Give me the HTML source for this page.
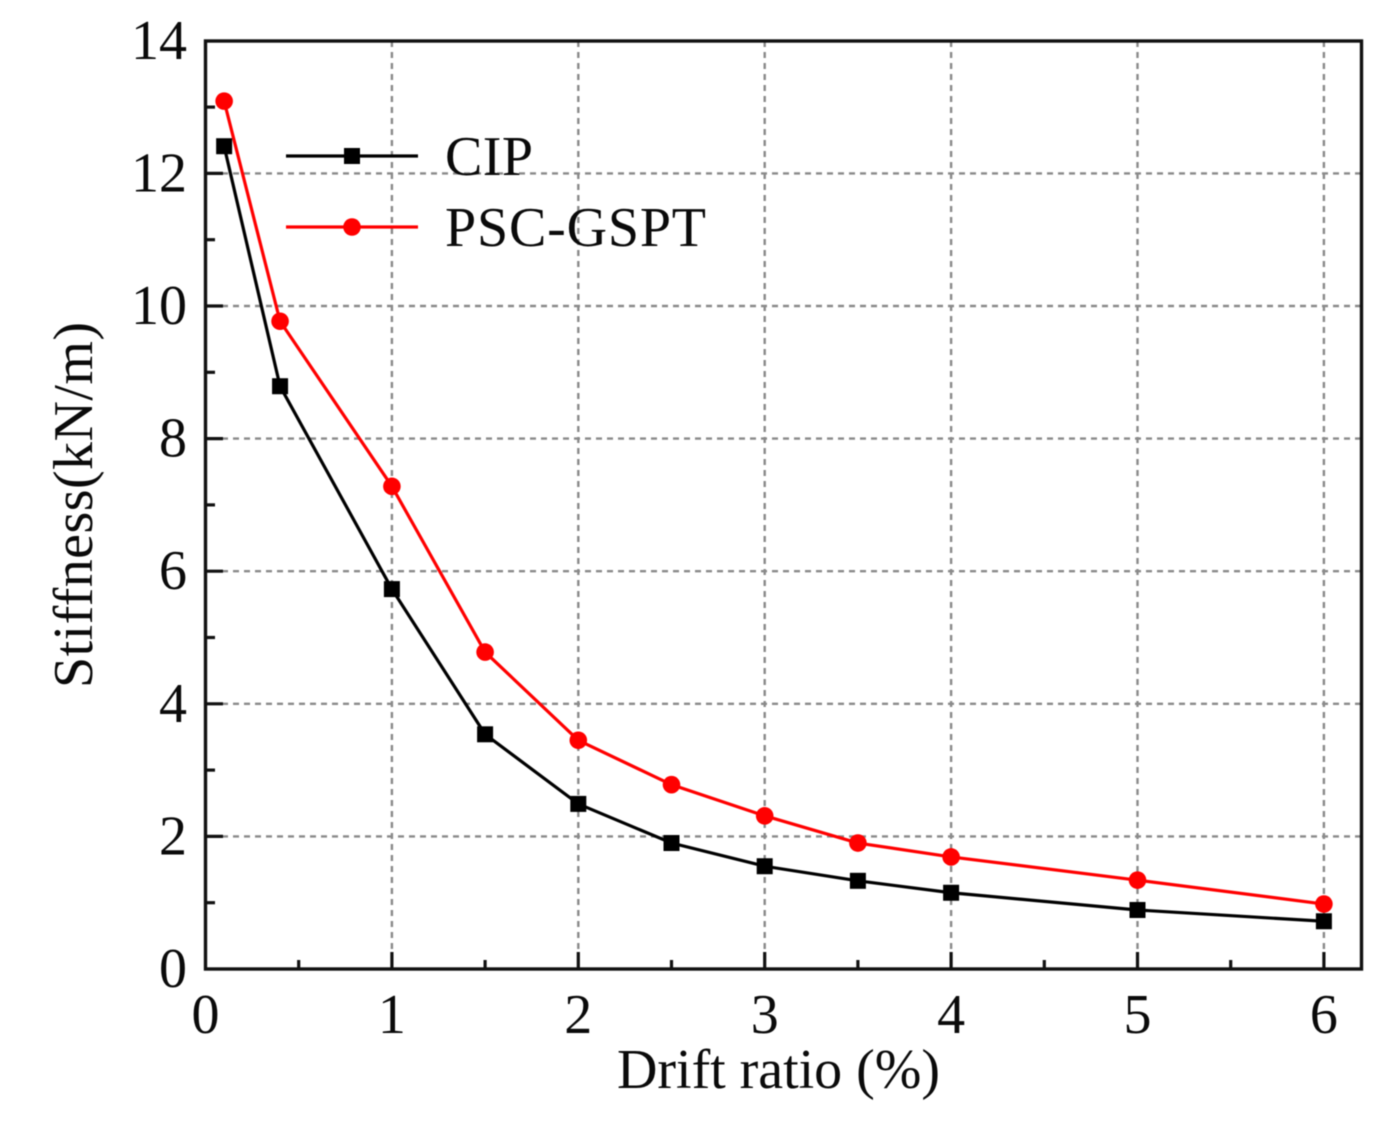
<!DOCTYPE html>
<html lang="en">
<head>
<meta charset="utf-8">
<title>Stiffness vs Drift ratio</title>
<style>
html,body{margin:0;padding:0;background:#fff;width:1397px;height:1124px;overflow:hidden}
svg{display:block}
text{font-family:"Liberation Serif","Noto Serif CJK SC",serif;fill:#0a0a0a}
</style>
</head>
<body>
<svg id="chart" width="1397" height="1124" viewBox="0 0 1397 1124" xmlns="http://www.w3.org/2000/svg">
<g id="root" style="filter:blur(0.6px)"></g>
</svg>
<script>
const driftRatio = [0.1, 0.4, 1, 1.5, 2, 2.5, 3, 3.5, 4, 5, 6];
const cipValues = [12.41, 8.79, 5.73, 3.54, 2.49, 1.90, 1.55, 1.33, 1.15, 0.89, 0.72];
const pscValues = [13.09, 9.77, 7.28, 4.78, 3.45, 2.78, 2.31, 1.90, 1.69, 1.34, 0.98];
const xTickLabels = [0, 1, 2, 3, 4, 5, 6];
const yTickLabels = [0, 2, 4, 6, 8, 10, 12, 14];
const xMinorTicks = [0.5, 1.5, 2.5, 3.5, 4.5, 5.5];
const yMinorTicks = [1, 3, 5, 7, 9, 11, 13];
const seriesNames = ['CIP', 'PSC-GSPT'];
const xAxisTitle = 'Drift ratio (%)';
const yAxisTitle = 'Stiffness(kN/m)';

const NS = 'http://www.w3.org/2000/svg';
const root = document.getElementById('root');
const xScale = v => 205.5 + v * 186.4;
const yScale = v => 969 - v * 66.3;
const xRight = 1361.5, yTop = 41;

function make(tag, attrs, text) {
  const el = document.createElementNS(NS, tag);
  for (const k in attrs) el.setAttribute(k, attrs[k]);
  if (text !== undefined) el.textContent = text;
  root.appendChild(el);
  return el;
}

// grid
xTickLabels.slice(1).forEach(t => {
  const el = make('line', {x1: xScale(t), x2: xScale(t), y1: yTop, y2: 952, stroke: '#8a8a8a', 'stroke-width': 2.4, 'stroke-dasharray': '6 5'});
  
  
});
yTickLabels.slice(1, -1).forEach(t => {
  const el = make('line', {x1: 222, x2: xRight, y1: yScale(t), y2: yScale(t), stroke: '#8a8a8a', 'stroke-width': 2.4, 'stroke-dasharray': '6 5'});
  
  
});

// ticks
xTickLabels.slice(1).forEach(t => {
  const el = make('line', {x1: xScale(t), x2: xScale(t), y1: 969, y2: 952, stroke: '#111', 'stroke-width': 3.2});
  
  
});
xMinorTicks.forEach(t => {
  const el = make('line', {x1: xScale(t), x2: xScale(t), y1: 969, y2: 960, stroke: '#111', 'stroke-width': 3.2});
  
  
});
yTickLabels.slice(1, -1).forEach(t => {
  const el = make('line', {x1: 205, x2: 223, y1: yScale(t), y2: yScale(t), stroke: '#111', 'stroke-width': 3.2});
  
  
});
yMinorTicks.forEach(t => {
  const el = make('line', {x1: 205, x2: 215, y1: yScale(t), y2: yScale(t), stroke: '#111', 'stroke-width': 3.2});
  
  
});

// frame
const frame = make('rect', {x: 205.5, y: yTop, width: xRight - 205.5, height: 969 - yTop, fill: 'none', stroke: '#111', 'stroke-width': 3.4});



// tick labels
xTickLabels.forEach(t => {
  const el = make('text', {x: xScale(t), y: 1033, 'font-size': 56, 'text-anchor': 'middle'}, String(t));
  
  
});
yTickLabels.forEach(t => {
  const el = make('text', {x: 187, y: yScale(t) + 18, 'font-size': 56, 'text-anchor': 'end'}, String(t));
  
  
});

// series
function linePoints(values) {
  return values.map((v, i) => xScale(driftRatio[i]) + ',' + yScale(v)).join(' ');
}
const cipLine = make('polyline', {points: linePoints(cipValues), fill: 'none', stroke: '#000', 'stroke-width': 3.2});


const pscLine = make('polyline', {points: linePoints(pscValues), fill: 'none', stroke: '#f00', 'stroke-width': 3.2});


cipValues.forEach((v, i) => {
  const el = make('rect', {x: xScale(driftRatio[i]) - 8, y: yScale(v) - 8, width: 16, height: 16, fill: '#000'});
  
  
});
pscValues.forEach((v, i) => {
  const el = make('circle', {cx: xScale(driftRatio[i]), cy: yScale(v), r: 8.8, fill: '#f00'});
  
  
});

// legend
const legendCipLine = make('line', {x1: 286, x2: 418, y1: 156, y2: 156, stroke: '#000', 'stroke-width': 3.2});


const legendCipMarker = make('rect', {x: 344, y: 148, width: 16, height: 16, fill: '#000'});


const legendCipText = make('text', {x: 445, y: 175, 'font-size': 56, textLength: 88, lengthAdjust: 'spacing'}, seriesNames[0]);


const legendPscLine = make('line', {x1: 286, x2: 418, y1: 227, y2: 227, stroke: '#f00', 'stroke-width': 3.2});


const legendPscMarker = make('circle', {cx: 352, cy: 227, r: 8.8, fill: '#f00'});


const legendPscText = make('text', {x: 445, y: 246, 'font-size': 56, textLength: 261, lengthAdjust: 'spacing'}, seriesNames[1]);



// axis titles
const xTitle = make('text', {x: 617, y: 1088, 'font-size': 56, textLength: 323, lengthAdjust: 'spacing'}, xAxisTitle);


const yTitle = make('text', {transform: 'translate(92,688) rotate(-90)', 'font-size': 56, textLength: 366, lengthAdjust: 'spacing'}, yAxisTitle);


</script>
</body>
</html>
